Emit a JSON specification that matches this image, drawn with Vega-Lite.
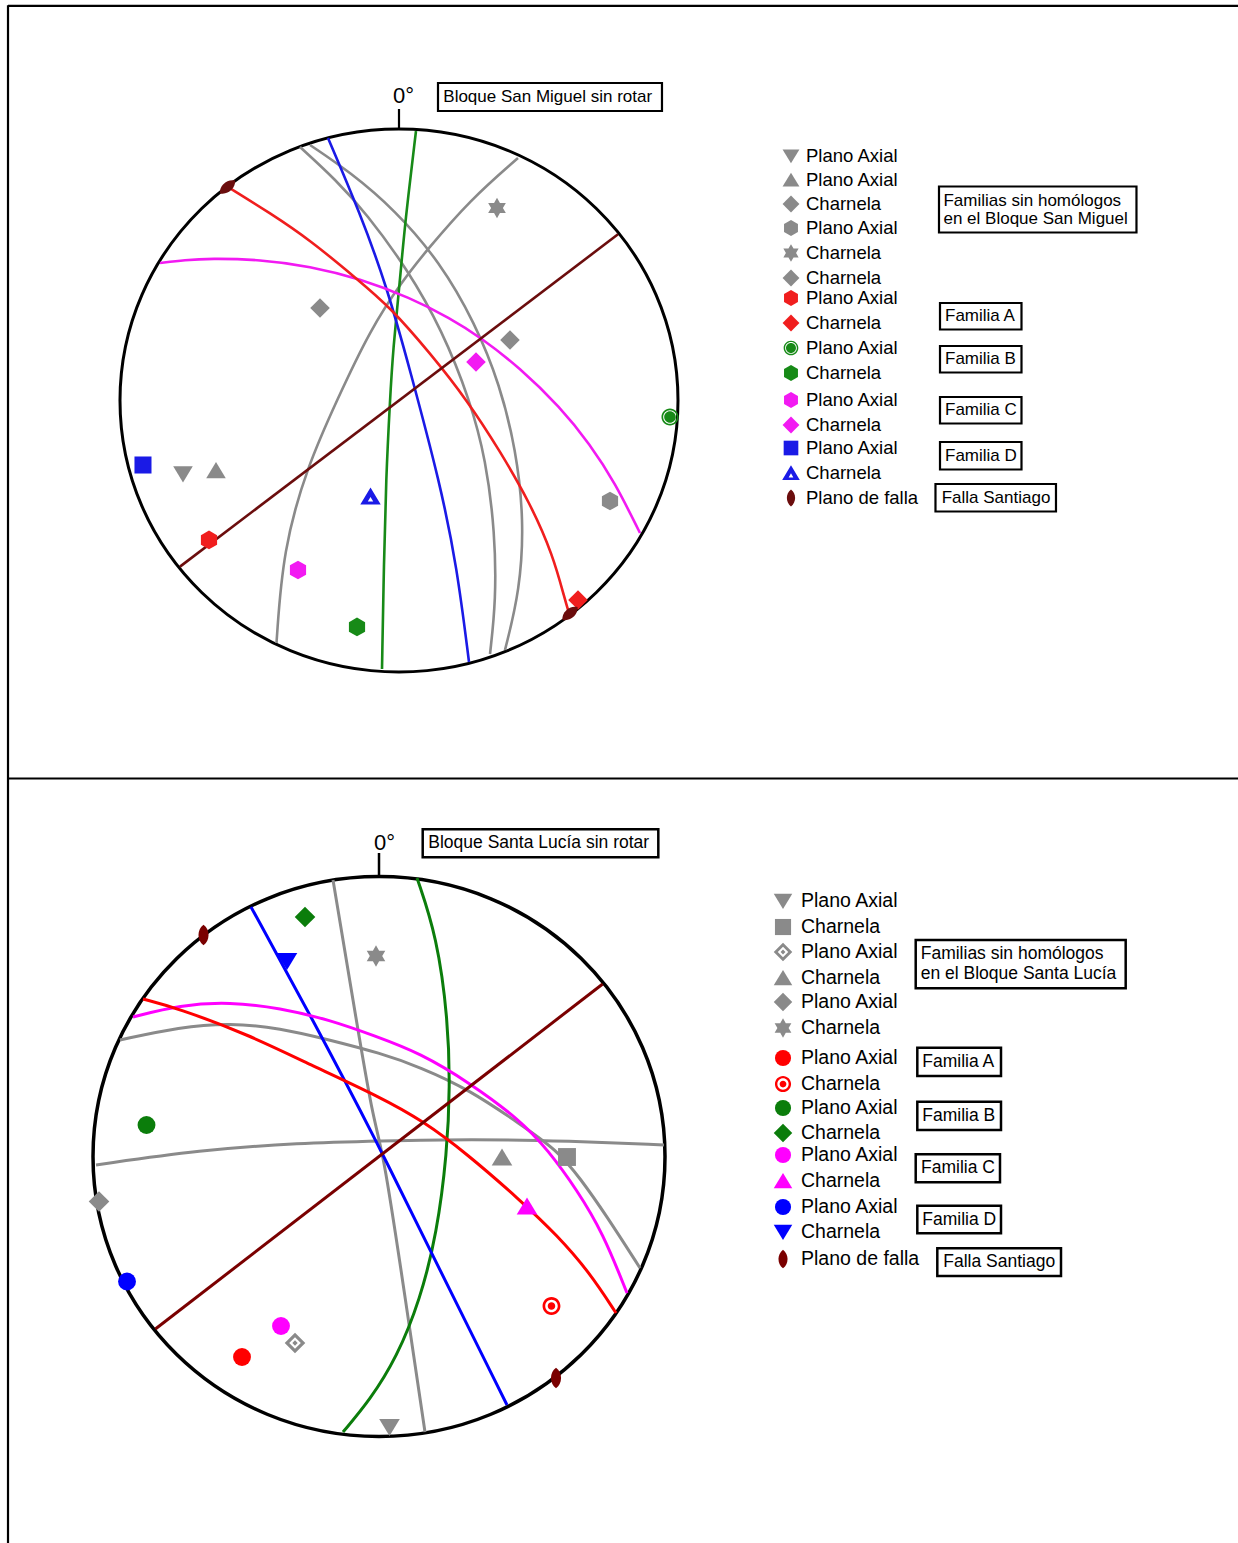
{
  "$schema": "https://vega.github.io/schema/vega-lite/v6.json",
  "width": 1238,
  "height": 1543,
  "padding": 0,
  "autosize": {"type": "none"},
  "background": "white",
  "config": {"view": {"stroke": null}},
  "datasets": {
    "topRules": [
      {"u": -140.14, "u2": -140.14, "v": 145.6, "v2": -420.81},
      {"u": -140.14, "u2": 300.72, "v": 145.38, "v2": 145.38},
      {"u": -140.14, "u2": 300.72, "v": -139.22, "v2": -139.22},
      {"u": 0, "u2": 0, "v": 107.37, "v2": 99.81}
    ],
    "topLines": [
      {"id": "G1", "fam": "S", "i": 0, "u": -35.48, "v": 93.37},
      {"id": "G1", "fam": "S", "i": 1, "u": -22.58, "v": 81.21},
      {"id": "G1", "fam": "S", "i": 2, "u": -11.83, "v": 69.06},
      {"id": "G1", "fam": "S", "i": 3, "u": 3.23, "v": 48.07},
      {"id": "G1", "fam": "S", "i": 4, "u": 15.41, "v": 25.97},
      {"id": "G1", "fam": "S", "i": 5, "u": 25.45, "v": 0.18},
      {"id": "G1", "fam": "S", "i": 6, "u": 31.18, "v": -21.92},
      {"id": "G1", "fam": "S", "i": 7, "u": 34.41, "v": -48.8},
      {"id": "G1", "fam": "S", "i": 8, "u": 34.77, "v": -73.48},
      {"id": "G1", "fam": "S", "i": 9, "u": 32.62, "v": -93.37},
      {"id": "G2", "fam": "S", "i": 0, "u": -31.9, "v": 94.11},
      {"id": "G2", "fam": "S", "i": 1, "u": -17.56, "v": 84.16},
      {"id": "G2", "fam": "S", "i": 2, "u": -1.43, "v": 70.16},
      {"id": "G2", "fam": "S", "i": 3, "u": 14.7, "v": 51.01},
      {"id": "G2", "fam": "S", "i": 4, "u": 27.24, "v": 28.54},
      {"id": "G2", "fam": "S", "i": 5, "u": 36.2, "v": 5.71},
      {"id": "G2", "fam": "S", "i": 6, "u": 41.94, "v": -18.23},
      {"id": "G2", "fam": "S", "i": 7, "u": 44.8, "v": -44.01},
      {"id": "G2", "fam": "S", "i": 8, "u": 43.37, "v": -69.8},
      {"id": "G2", "fam": "S", "i": 9, "u": 37.99, "v": -91.9},
      {"id": "G3", "fam": "S", "i": 0, "u": 42.65, "v": 89.32},
      {"id": "G3", "fam": "S", "i": 1, "u": 25.45, "v": 73.85},
      {"id": "G3", "fam": "S", "i": 2, "u": 10.04, "v": 55.43},
      {"id": "G3", "fam": "S", "i": 3, "u": 1.43, "v": 44.38},
      {"id": "G3", "fam": "S", "i": 4, "u": -10.39, "v": 25.97},
      {"id": "G3", "fam": "S", "i": 5, "u": -22.22, "v": 0.18},
      {"id": "G3", "fam": "S", "i": 6, "u": -32.97, "v": -24.49},
      {"id": "G3", "fam": "S", "i": 7, "u": -41.58, "v": -55.06},
      {"id": "G3", "fam": "S", "i": 8, "u": -43.91, "v": -89.32},
      {"id": "B", "fam": "B", "i": 0, "u": 6.09, "v": 99.26},
      {"id": "B", "fam": "B", "i": 1, "u": 2.15, "v": 65.38},
      {"id": "B", "fam": "B", "i": 2, "u": 0.36, "v": 44.38},
      {"id": "B", "fam": "B", "i": 3, "u": -2.15, "v": 18.6},
      {"id": "B", "fam": "B", "i": 4, "u": -3.23, "v": 0.18},
      {"id": "B", "fam": "B", "i": 5, "u": -4.66, "v": -29.28},
      {"id": "B", "fam": "B", "i": 6, "u": -5.38, "v": -58.75},
      {"id": "B", "fam": "B", "i": 7, "u": -6.09, "v": -98.89},
      {"id": "D", "fam": "D", "i": 0, "u": -25.45, "v": 96.68},
      {"id": "D", "fam": "D", "i": 1, "u": -13.98, "v": 69.06},
      {"id": "D", "fam": "D", "i": 2, "u": -4.3, "v": 41.8},
      {"id": "D", "fam": "D", "i": 3, "u": 3.94, "v": 11.23},
      {"id": "D", "fam": "D", "i": 4, "u": 14.7, "v": -30.39},
      {"id": "D", "fam": "D", "i": 5, "u": 20.79, "v": -61.33},
      {"id": "D", "fam": "D", "i": 6, "u": 25.09, "v": -96.32},
      {"id": "C", "fam": "C", "i": 0, "u": -85.66, "v": 50.64},
      {"id": "C", "fam": "C", "i": 1, "u": -76.7, "v": 51.75},
      {"id": "C", "fam": "C", "i": 2, "u": -67.74, "v": 52.3},
      {"id": "C", "fam": "C", "i": 3, "u": -49.82, "v": 51.93},
      {"id": "C", "fam": "C", "i": 4, "u": -31.9, "v": 49.47},
      {"id": "C", "fam": "C", "i": 5, "u": -13.98, "v": 44.86},
      {"id": "C", "fam": "C", "i": 6, "u": 3.94, "v": 37.86},
      {"id": "C", "fam": "C", "i": 7, "u": 18.28, "v": 30.35},
      {"id": "C", "fam": "C", "i": 8, "u": 29.03, "v": 23.39},
      {"id": "C", "fam": "C", "i": 9, "u": 43.37, "v": 12.01},
      {"id": "C", "fam": "C", "i": 10, "u": 57.71, "v": -2.43},
      {"id": "C", "fam": "C", "i": 11, "u": 68.46, "v": -16.1},
      {"id": "C", "fam": "C", "i": 12, "u": 77.42, "v": -30.31},
      {"id": "C", "fam": "C", "i": 13, "u": 86.38, "v": -48.8},
      {"id": "A", "fam": "A", "i": 0, "u": -61.29, "v": 78.64},
      {"id": "A", "fam": "A", "i": 1, "u": -46.24, "v": 69.06},
      {"id": "A", "fam": "A", "i": 2, "u": -31.9, "v": 59.12},
      {"id": "A", "fam": "A", "i": 3, "u": -15.05, "v": 44.75},
      {"id": "A", "fam": "A", "i": 4, "u": -3.23, "v": 34.44},
      {"id": "A", "fam": "A", "i": 5, "u": 11.11, "v": 17.5},
      {"id": "A", "fam": "A", "i": 6, "u": 24.37, "v": 0.18},
      {"id": "A", "fam": "A", "i": 7, "u": 36.2, "v": -18.6},
      {"id": "A", "fam": "A", "i": 8, "u": 46.95, "v": -37.75},
      {"id": "A", "fam": "A", "i": 9, "u": 55.2, "v": -56.91},
      {"id": "A", "fam": "A", "i": 10, "u": 59.5, "v": -73.48},
      {"id": "A", "fam": "A", "i": 11, "u": 60.93, "v": -78.27},
      {"id": "F", "fam": "F", "i": 0, "u": -78.5, "v": -61.2},
      {"id": "F", "fam": "F", "i": 1, "u": 78.5, "v": 61.2}
    ],
    "topPts": [
      {"key": "s1", "fam": "S", "u": -77.42, "v": -27.07},
      {"key": "s2", "fam": "S", "u": -65.59, "v": -25.78},
      {"key": "s3", "fam": "S", "u": -28.31, "v": 34.07},
      {"key": "s6", "fam": "S", "u": 39.78, "v": 22.28},
      {"key": "s4", "fam": "S", "u": 75.63, "v": -37.02},
      {"key": "s5", "fam": "S", "u": 35.13, "v": 70.9},
      {"key": "a_pa", "fam": "A", "u": -68.1, "v": -51.38},
      {"key": "a_ch", "fam": "A", "u": 64.16, "v": -73.48},
      {"key": "b_pa", "fam": "B", "u": 97.13, "v": -6.08},
      {"key": "b_ch", "fam": "B", "u": -15.05, "v": -83.42},
      {"key": "c_pa", "fam": "C", "u": -36.2, "v": -62.43},
      {"key": "c_ch", "fam": "C", "u": 27.6, "v": 14.18},
      {"key": "d_pa", "fam": "D", "u": -91.76, "v": -23.76},
      {"key": "d_ch", "fam": "D", "u": -10.21, "v": -35.36},
      {"key": "falla", "fam": "F", "u": -61.47, "v": 78.64},
      {"key": "falla", "fam": "F", "u": 61.29, "v": -78.45}
    ],
    "topLeg": [
      {"key": "s1", "fam": "S", "label": "Plano Axial", "v": 90.05},
      {"key": "s2", "fam": "S", "label": "Plano Axial", "v": 81.21},
      {"key": "s3", "fam": "S", "label": "Charnela", "v": 72.37},
      {"key": "s4", "fam": "S", "label": "Plano Axial", "v": 63.54},
      {"key": "s5", "fam": "S", "label": "Charnela", "v": 54.33},
      {"key": "s6", "fam": "S", "label": "Charnela", "v": 45.12},
      {"key": "a_pa", "fam": "A", "label": "Plano Axial", "v": 37.75},
      {"key": "a_ch", "fam": "A", "label": "Charnela", "v": 28.54},
      {"key": "b_pa", "fam": "B", "label": "Plano Axial", "v": 19.34},
      {"key": "b_ch", "fam": "B", "label": "Charnela", "v": 10.13},
      {"key": "c_pa", "fam": "C", "label": "Plano Axial", "v": 0.18},
      {"key": "c_ch", "fam": "C", "label": "Charnela", "v": -9.02},
      {"key": "d_pa", "fam": "D", "label": "Plano Axial", "v": -17.5},
      {"key": "d_ch", "fam": "D", "label": "Charnela", "v": -26.7},
      {"key": "falla", "fam": "F", "label": "Plano de falla", "v": -35.91}
    ],
    "topBoxes": [
      {"u": 13.98, "u2": 94.26, "v": 116.94, "v2": 106.63},
      {"u": 193.55, "u2": 264.33, "v": 78.82, "v2": 61.88},
      {"u": 193.91, "u2": 223.12, "v": 35.91, "v2": 26.15},
      {"u": 193.91, "u2": 223.12, "v": 20.07, "v2": 10.31},
      {"u": 193.91, "u2": 223.12, "v": 1.29, "v2": -8.47},
      {"u": 193.91, "u2": 223.12, "v": -15.29, "v2": -25.41},
      {"u": 192.29, "u2": 235.48, "v": -30.75, "v2": -40.88}
    ],
    "topTexts": [
      {"label": "Bloque San Miguel sin rotar", "u": 15.88, "v": 111.79},
      {"label": "Familias sin homólogos", "u": 195.16, "v": 73.66},
      {"label": "en el Bloque San Miguel", "u": 195.16, "v": 66.67},
      {"label": "Familia A", "u": 195.7, "v": 31.12},
      {"label": "Familia B", "u": 195.7, "v": 15.17},
      {"label": "Familia C", "u": 195.7, "v": -3.57},
      {"label": "Familia D", "u": 195.7, "v": -20.33},
      {"label": "Falla Santiago", "u": 194.51, "v": -35.8}
    ],
    "botRules": [
      {"u": 0, "u2": 0, "v": 108.39, "v2": 100.0}
    ],
    "botLines": [
      {"id": "GA", "fam": "S", "i": 0, "u": -90.56, "v": 41.61},
      {"id": "GA", "fam": "S", "i": 1, "u": -69.58, "v": 46.25},
      {"id": "GA", "fam": "S", "i": 2, "u": -52.1, "v": 47.68},
      {"id": "GA", "fam": "S", "i": 3, "u": -34.62, "v": 45.89},
      {"id": "GA", "fam": "S", "i": 4, "u": -17.13, "v": 41.61},
      {"id": "GA", "fam": "S", "i": 5, "u": 0.35, "v": 36.96},
      {"id": "GA", "fam": "S", "i": 6, "u": 14.34, "v": 31.96},
      {"id": "GA", "fam": "S", "i": 7, "u": 31.82, "v": 23.75},
      {"id": "GA", "fam": "S", "i": 8, "u": 49.3, "v": 11.61},
      {"id": "GA", "fam": "S", "i": 9, "u": 62.24, "v": 2.32},
      {"id": "GA", "fam": "S", "i": 10, "u": 70.28, "v": -7.68},
      {"id": "GA", "fam": "S", "i": 11, "u": 79.37, "v": -20.89},
      {"id": "GA", "fam": "S", "i": 12, "u": 91.26, "v": -39.82},
      {"id": "GB", "fam": "S", "i": 0, "u": -98.95, "v": -3.04},
      {"id": "GB", "fam": "S", "i": 1, "u": -62.59, "v": 2.32},
      {"id": "GB", "fam": "S", "i": 2, "u": -27.62, "v": 4.82},
      {"id": "GB", "fam": "S", "i": 3, "u": 0.35, "v": 5.54},
      {"id": "GB", "fam": "S", "i": 4, "u": 31.82, "v": 6.25},
      {"id": "GB", "fam": "S", "i": 5, "u": 66.78, "v": 5.54},
      {"id": "GB", "fam": "S", "i": 6, "u": 99.65, "v": 4.11},
      {"id": "GC", "fam": "S", "i": 0, "u": -16.08, "v": 98.75},
      {"id": "GC", "fam": "S", "i": 1, "u": -9.09, "v": 55.89},
      {"id": "GC", "fam": "S", "i": 2, "u": -2.1, "v": 13.04},
      {"id": "GC", "fam": "S", "i": 3, "u": 1.4, "v": 2.32},
      {"id": "GC", "fam": "S", "i": 4, "u": 8.39, "v": -45.18},
      {"id": "GC", "fam": "S", "i": 5, "u": 16.08, "v": -98.39},
      {"id": "B", "fam": "B", "i": 0, "u": 13.29, "v": 99.46},
      {"id": "B", "fam": "B", "i": 1, "u": 20.28, "v": 78.39},
      {"id": "B", "fam": "B", "i": 2, "u": 24.13, "v": 48.75},
      {"id": "B", "fam": "B", "i": 3, "u": 24.83, "v": 24.82},
      {"id": "B", "fam": "B", "i": 4, "u": 23.78, "v": 1.25},
      {"id": "B", "fam": "B", "i": 5, "u": 20.28, "v": -27.32},
      {"id": "B", "fam": "B", "i": 6, "u": 14.34, "v": -51.25},
      {"id": "B", "fam": "B", "i": 7, "u": 6.29, "v": -71.61},
      {"id": "B", "fam": "B", "i": 8, "u": -3.15, "v": -86.96},
      {"id": "B", "fam": "B", "i": 9, "u": -12.59, "v": -98.39},
      {"id": "D", "fam": "D", "i": 0, "u": -44.76, "v": 89.11},
      {"id": "D", "fam": "D", "i": 1, "u": -23.08, "v": 48.75},
      {"id": "D", "fam": "D", "i": 2, "u": -0.7, "v": 5.18},
      {"id": "D", "fam": "D", "i": 3, "u": 17.83, "v": -33.39},
      {"id": "D", "fam": "D", "i": 4, "u": 44.76, "v": -88.75},
      {"id": "C", "fam": "C", "i": 0, "u": -86.01, "v": 49.82},
      {"id": "C", "fam": "C", "i": 1, "u": -69.58, "v": 54.11},
      {"id": "C", "fam": "C", "i": 2, "u": -52.1, "v": 55.18},
      {"id": "C", "fam": "C", "i": 3, "u": -34.62, "v": 53.04},
      {"id": "C", "fam": "C", "i": 4, "u": -17.13, "v": 48.75},
      {"id": "C", "fam": "C", "i": 5, "u": -1.4, "v": 43.04},
      {"id": "C", "fam": "C", "i": 6, "u": 14.34, "v": 36.96},
      {"id": "C", "fam": "C", "i": 7, "u": 31.82, "v": 26.25},
      {"id": "C", "fam": "C", "i": 8, "u": 49.3, "v": 13.04},
      {"id": "C", "fam": "C", "i": 9, "u": 59.09, "v": 2.32},
      {"id": "C", "fam": "C", "i": 10, "u": 69.23, "v": -11.96},
      {"id": "C", "fam": "C", "i": 11, "u": 78.32, "v": -27.32},
      {"id": "C", "fam": "C", "i": 12, "u": 86.71, "v": -48.75},
      {"id": "A", "fam": "A", "i": 0, "u": -82.52, "v": 56.25},
      {"id": "A", "fam": "A", "i": 1, "u": -70.63, "v": 53.04},
      {"id": "A", "fam": "A", "i": 2, "u": -46.15, "v": 43.75},
      {"id": "A", "fam": "A", "i": 3, "u": -23.08, "v": 32.32},
      {"id": "A", "fam": "A", "i": 4, "u": 0.35, "v": 21.25},
      {"id": "A", "fam": "A", "i": 5, "u": 15.38, "v": 12.68},
      {"id": "A", "fam": "A", "i": 6, "u": 30.42, "v": 1.25},
      {"id": "A", "fam": "A", "i": 7, "u": 49.3, "v": -15.54},
      {"id": "A", "fam": "A", "i": 8, "u": 62.24, "v": -28.04},
      {"id": "A", "fam": "A", "i": 9, "u": 73.78, "v": -41.61},
      {"id": "A", "fam": "A", "i": 10, "u": 82.87, "v": -55.89},
      {"id": "F", "fam": "F", "i": 0, "u": -78.2, "v": -61.6},
      {"id": "F", "fam": "F", "i": 1, "u": 78.2, "v": 61.6}
    ],
    "botPts": [
      {"key": "s1", "fam": "S", "u": 3.67, "v": -96.61},
      {"key": "s2", "fam": "S", "u": 65.73, "v": -0.18},
      {"key": "s3", "fam": "S", "u": -29.37, "v": -66.61},
      {"key": "s4", "fam": "S", "u": 43.01, "v": -0.36},
      {"key": "s5", "fam": "S", "u": -97.9, "v": -16.07},
      {"key": "s6", "fam": "S", "u": -1.05, "v": 71.61},
      {"key": "a_pa", "fam": "A", "u": -47.9, "v": -71.61},
      {"key": "a_ch", "fam": "A", "u": 60.31, "v": -53.39},
      {"key": "b_pa", "fam": "B", "u": -81.29, "v": 11.25},
      {"key": "b_ch", "fam": "B", "u": -25.87, "v": 85.53},
      {"key": "c_pa", "fam": "C", "u": -34.27, "v": -60.54},
      {"key": "c_ch", "fam": "C", "u": 51.75, "v": -17.86},
      {"key": "d_pa", "fam": "D", "u": -88.11, "v": -44.64},
      {"key": "d_ch", "fam": "D", "u": -32.17, "v": 69.82},
      {"key": "falla", "fam": "F", "u": -61.36, "v": 79.11},
      {"key": "falla", "fam": "F", "u": 61.89, "v": -79.11}
    ],
    "botLeg": [
      {"key": "s1", "fam": "S", "label": "Plano Axial", "v": 91.25},
      {"key": "s2", "fam": "S", "label": "Charnela", "v": 81.96},
      {"key": "s3", "fam": "S", "label": "Plano Axial", "v": 73.04},
      {"key": "s4", "fam": "S", "label": "Charnela", "v": 63.75},
      {"key": "s5", "fam": "S", "label": "Plano Axial", "v": 55.18},
      {"key": "s6", "fam": "S", "label": "Charnela", "v": 45.89},
      {"key": "a_pa", "fam": "A", "label": "Plano Axial", "v": 35.18},
      {"key": "a_ch", "fam": "A", "label": "Charnela", "v": 25.89},
      {"key": "b_pa", "fam": "B", "label": "Plano Axial", "v": 17.32},
      {"key": "b_ch", "fam": "B", "label": "Charnela", "v": 8.39},
      {"key": "c_pa", "fam": "C", "label": "Plano Axial", "v": 0.54},
      {"key": "c_ch", "fam": "C", "label": "Charnela", "v": -8.75},
      {"key": "d_pa", "fam": "D", "label": "Plano Axial", "v": -18.04},
      {"key": "d_ch", "fam": "D", "label": "Charnela", "v": -26.96},
      {"key": "falla", "fam": "F", "label": "Plano de falla", "v": -36.61}
    ],
    "botBoxes": [
      {"u": 15.28, "u2": 97.66, "v": 116.86, "v2": 106.86},
      {"u": 187.66, "u2": 261.08, "v": 77.32, "v2": 60.07},
      {"u": 188.22, "u2": 217.48, "v": 38.86, "v2": 28.75},
      {"u": 188.22, "u2": 217.48, "v": 19.57, "v2": 9.46},
      {"u": 187.66, "u2": 217.13, "v": 0.79, "v2": -9.21},
      {"u": 188.22, "u2": 217.48, "v": -17.57, "v2": -27.43},
      {"u": 195.21, "u2": 238.46, "v": -32.79, "v2": -42.68}
    ],
    "botTexts": [
      {"label": "Bloque Santa Lucía sin rotar", "u": 17.24, "v": 111.86},
      {"label": "Familias sin homólogos", "u": 189.41, "v": 72.21},
      {"label": "en el Bloque Santa Lucía", "u": 189.41, "v": 65.07},
      {"label": "Familia A", "u": 189.97, "v": 33.79},
      {"label": "Familia B", "u": 189.97, "v": 14.5},
      {"label": "Familia C", "u": 189.51, "v": -4.21},
      {"label": "Familia D", "u": 189.97, "v": -22.5},
      {"label": "Falla Santiago", "u": 197.31, "v": -37.75}
    ]
  },
  "resolve": {"scale": {"x": "independent", "y": "independent", "color": "independent", "shape": "independent"}},
  "layer": [
    {
      "layer": [
        {
          "data": {"name": "topRules"},
          "mark": {"type": "rule", "stroke": "black", "strokeWidth": 2.2},
          "encoding": {
            "x": {"field": "u", "type": "quantitative", "scale": {"domain": [-143.01, 300.72], "nice": false, "zero": false}, "axis": null},
            "x2": {"field": "u2"},
            "y": {"field": "v", "type": "quantitative", "scale": {"domain": [-420.81, 147.51], "nice": false, "zero": false}, "axis": null},
            "y2": {"field": "v2"}
          }
        },
        {
          "data": {"values": [{"u": 0, "v": 0}]},
          "mark": {"type": "point", "filled": false, "stroke": "black", "strokeWidth": 3, "opacity": 1, "size": 311364,
            "shape": "M1,0C1,0.5375 0.5523,0.9731 0,0.9731C-0.5523,0.9731 -1,0.5375 -1,0C-1,-0.5375 -0.5523,-0.9731 0,-0.9731C0.5523,-0.9731 1,-0.5375 1,0Z"},
          "encoding": {
            "x": {"field": "u", "type": "quantitative", "scale": {"domain": [-143.01, 300.72], "nice": false, "zero": false}, "axis": null},
            "y": {"field": "v", "type": "quantitative", "scale": {"domain": [-420.81, 147.51], "nice": false, "zero": false}, "axis": null}
          }
        },
        {
          "data": {"name": "topLines"},
          "mark": {"type": "line", "strokeWidth": 2.6, "interpolate": "basis"},
          "encoding": {
            "x": {"field": "u", "type": "quantitative", "scale": {"domain": [-143.01, 300.72], "nice": false, "zero": false}, "axis": null},
            "y": {"field": "v", "type": "quantitative", "scale": {"domain": [-420.81, 147.51], "nice": false, "zero": false}, "axis": null},
            "color": {"field": "fam", "type": "nominal", "scale": {"domain": ["S", "A", "B", "C", "D", "F"], "range": ["#8a8a8a", "#f01e1e", "#178a17", "#f21af2", "#1a1ae6", "#6b0d0d"]}, "legend": null},
            "detail": {"field": "id"},
            "order": {"field": "i", "type": "quantitative"}
          }
        },
        {
          "data": {"name": "topPts"},
          "transform": [{"filter": "datum.key !== 'falla'"}],
          "mark": {"type": "point", "filled": true, "opacity": 1, "strokeWidth": 0, "size": 290},
          "encoding": {
            "x": {"field": "u", "type": "quantitative", "scale": {"domain": [-143.01, 300.72], "nice": false, "zero": false}, "axis": null},
            "y": {"field": "v", "type": "quantitative", "scale": {"domain": [-420.81, 147.51], "nice": false, "zero": false}, "axis": null},
            "color": {"field": "fam", "type": "nominal", "scale": {"domain": ["S", "A", "B", "C", "D", "F"], "range": ["#8a8a8a", "#f01e1e", "#178a17", "#f21af2", "#1a1ae6", "#6b0d0d"]}, "legend": null},
            "shape": {"field": "key", "type": "nominal", "legend": null, "scale": {
              "domain": ["s1", "s2", "s3", "s4", "s5", "s6", "a_pa", "a_ch", "b_pa", "b_ch", "c_pa", "c_ch", "d_pa", "d_ch", "falla"],
              "range": [
                "M-1.15,-0.9L1.15,-0.9L0,1Z",
                "M0,-1L1.15,0.9L-1.15,0.9Z",
                "M0,-1.15L1.15,0L0,1.15L-1.15,0Z",
                "M0,-1.1L0.95,-0.55L0.95,0.55L0,1.1L-0.95,0.55L-0.95,-0.55Z",
                "M0,-1.2L0.346,-0.6L1.039,-0.6L0.693,0L1.039,0.6L0.346,0.6L0,1.2L-0.346,0.6L-1.039,0.6L-0.693,0L-1.039,-0.6L-0.346,-0.6Z",
                "M0,-1.15L1.15,0L0,1.15L-1.15,0Z",
                "M0,-1.1L0.95,-0.55L0.95,0.55L0,1.1L-0.95,0.55L-0.95,-0.55Z",
                "M0,-1.15L1.15,0L0,1.15L-1.15,0Z",
                "M1,0C1,0.5523 0.5523,1 0,1C-0.5523,1 -1,0.5523 -1,0C-1,-0.5523 -0.5523,-1 0,-1C0.5523,-1 1,-0.5523 1,0Z M0.8,0C0.8,-0.4418 0.4418,-0.8 0,-0.8C-0.4418,-0.8 -0.8,-0.4418 -0.8,0C-0.8,0.4418 -0.4418,0.8 0,0.8C0.4418,0.8 0.8,0.4418 0.8,0Z M0.68,0C0.68,0.3756 0.3756,0.68 0,0.68C-0.3756,0.68 -0.68,0.3756 -0.68,0C-0.68,-0.3756 -0.3756,-0.68 0,-0.68C0.3756,-0.68 0.68,-0.3756 0.68,0Z",
                "M0,-1.1L0.95,-0.55L0.95,0.55L0,1.1L-0.95,0.55L-0.95,-0.55Z",
                "M0,-1.1L0.95,-0.55L0.95,0.55L0,1.1L-0.95,0.55L-0.95,-0.55Z",
                "M0,-1.15L1.15,0L0,1.15L-1.15,0Z",
                "M-1,-1L1,-1L1,1L-1,1Z",
                "M0,-1.05L1.2,0.95L-1.2,0.95Z M0,0.05L-0.32,0.6L0.32,0.6Z",
                "M0,-1.15C0.75,-0.6 0.75,0.6 0,1.15C-0.75,0.6 -0.75,-0.6 0,-1.15Z"
              ]}}
          }
        },
        {
          "data": {"name": "topPts"},
          "transform": [{"filter": "datum.key === 'falla'"}],
          "mark": {"type": "point", "filled": true, "opacity": 1, "strokeWidth": 0, "size": 300, "angle": 50},
          "encoding": {
            "x": {"field": "u", "type": "quantitative", "scale": {"domain": [-143.01, 300.72], "nice": false, "zero": false}, "axis": null},
            "y": {"field": "v", "type": "quantitative", "scale": {"domain": [-420.81, 147.51], "nice": false, "zero": false}, "axis": null},
            "color": {"field": "fam", "type": "nominal", "legend": null},
            "shape": {"field": "key", "type": "nominal", "legend": null}
          }
        },
        {
          "data": {"values": [{"label": "0°", "u": 1.61, "v": 112.15}]},
          "mark": {"type": "text", "font": "Liberation Sans", "fontSize": 22, "align": "center", "baseline": "middle", "color": "black"},
          "encoding": {
            "x": {"field": "u", "type": "quantitative", "scale": {"domain": [-143.01, 300.72], "nice": false, "zero": false}, "axis": null},
            "y": {"field": "v", "type": "quantitative", "scale": {"domain": [-420.81, 147.51], "nice": false, "zero": false}, "axis": null},
            "text": {"field": "label"}
          }
        },
        {
          "data": {"name": "topBoxes"},
          "mark": {"type": "rect", "fill": "white", "stroke": "black", "strokeWidth": 2.2},
          "encoding": {
            "x": {"field": "u", "type": "quantitative", "scale": {"domain": [-143.01, 300.72], "nice": false, "zero": false}, "axis": null},
            "x2": {"field": "u2"},
            "y": {"field": "v", "type": "quantitative", "scale": {"domain": [-420.81, 147.51], "nice": false, "zero": false}, "axis": null},
            "y2": {"field": "v2"}
          }
        },
        {
          "data": {"name": "topTexts"},
          "mark": {"type": "text", "font": "Liberation Sans", "fontSize": 17, "align": "left", "baseline": "middle", "color": "black"},
          "encoding": {
            "x": {"field": "u", "type": "quantitative", "scale": {"domain": [-143.01, 300.72], "nice": false, "zero": false}, "axis": null},
            "y": {"field": "v", "type": "quantitative", "scale": {"domain": [-420.81, 147.51], "nice": false, "zero": false}, "axis": null},
            "text": {"field": "label"}
          }
        },
        {
          "data": {"name": "topLeg"},
          "mark": {"type": "point", "filled": true, "opacity": 1, "strokeWidth": 0, "size": 215},
          "encoding": {
            "x": {"datum": 140.5, "type": "quantitative", "scale": {"domain": [-143.01, 300.72], "nice": false, "zero": false}, "axis": null},
            "y": {"field": "v", "type": "quantitative", "scale": {"domain": [-420.81, 147.51], "nice": false, "zero": false}, "axis": null},
            "color": {"field": "fam", "type": "nominal", "legend": null},
            "shape": {"field": "key", "type": "nominal", "legend": null}
          }
        },
        {
          "data": {"name": "topLeg"},
          "mark": {"type": "text", "font": "Liberation Sans", "fontSize": 18.5, "align": "left", "baseline": "middle", "color": "black"},
          "encoding": {
            "x": {"datum": 145.88, "type": "quantitative", "scale": {"domain": [-143.01, 300.72], "nice": false, "zero": false}, "axis": null},
            "y": {"field": "v", "type": "quantitative", "scale": {"domain": [-420.81, 147.51], "nice": false, "zero": false}, "axis": null},
            "text": {"field": "label"}
          }
        }
      ]
    },
    {
      "layer": [
        {
          "data": {"name": "botRules"},
          "mark": {"type": "rule", "stroke": "black", "strokeWidth": 2.5},
          "encoding": {
            "x": {"field": "u", "type": "quantitative", "scale": {"domain": [-132.52, 300.35], "nice": false, "zero": false}, "axis": null},
            "x2": {"field": "u2"},
            "y": {"field": "v", "type": "quantitative", "scale": {"domain": [-138.03, 413.03], "nice": false, "zero": false}, "axis": null},
            "y2": {"field": "v2"}
          }
        },
        {
          "data": {"values": [{"u": 0, "v": 0}]},
          "mark": {"type": "point", "filled": false, "stroke": "black", "strokeWidth": 3.5, "opacity": 1, "size": 327184,
            "shape": "M1,0C1,0.5407 0.5523,0.979 0,0.979C-0.5523,0.979 -1,0.5407 -1,0C-1,-0.5407 -0.5523,-0.979 0,-0.979C0.5523,-0.979 1,-0.5407 1,0Z"},
          "encoding": {
            "x": {"field": "u", "type": "quantitative", "scale": {"domain": [-132.52, 300.35], "nice": false, "zero": false}, "axis": null},
            "y": {"field": "v", "type": "quantitative", "scale": {"domain": [-138.03, 413.03], "nice": false, "zero": false}, "axis": null}
          }
        },
        {
          "data": {"name": "botLines"},
          "mark": {"type": "line", "strokeWidth": 3, "interpolate": "basis"},
          "encoding": {
            "x": {"field": "u", "type": "quantitative", "scale": {"domain": [-132.52, 300.35], "nice": false, "zero": false}, "axis": null},
            "y": {"field": "v", "type": "quantitative", "scale": {"domain": [-138.03, 413.03], "nice": false, "zero": false}, "axis": null},
            "color": {"field": "fam", "type": "nominal", "scale": {"domain": ["S", "A", "B", "C", "D", "F"], "range": ["#8a8a8a", "#ff0000", "#0b7d0b", "#ff00ff", "#0000ff", "#7a0000"]}, "legend": null},
            "detail": {"field": "id"},
            "order": {"field": "i", "type": "quantitative"}
          }
        },
        {
          "data": {"name": "botPts"},
          "transform": [{"filter": "datum.key !== 'falla'"}],
          "mark": {"type": "point", "filled": true, "opacity": 1, "strokeWidth": 0, "size": 320},
          "encoding": {
            "x": {"field": "u", "type": "quantitative", "scale": {"domain": [-132.52, 300.35], "nice": false, "zero": false}, "axis": null},
            "y": {"field": "v", "type": "quantitative", "scale": {"domain": [-138.03, 413.03], "nice": false, "zero": false}, "axis": null},
            "color": {"field": "fam", "type": "nominal", "scale": {"domain": ["S", "A", "B", "C", "D", "F"], "range": ["#8a8a8a", "#ff0000", "#0b7d0b", "#ff00ff", "#0000ff", "#7a0000"]}, "legend": null},
            "shape": {"field": "key", "type": "nominal", "legend": null, "scale": {
              "domain": ["s1", "s2", "s3", "s4", "s5", "s6", "a_pa", "a_ch", "b_pa", "b_ch", "c_pa", "c_ch", "d_pa", "d_ch", "falla"],
              "range": [
                "M-1.15,-0.9L1.15,-0.9L0,1Z",
                "M-1,-1L1,-1L1,1L-1,1Z",
                "M0,-1.15L1.15,0L0,1.15L-1.15,0Z M0,-0.65L-0.65,0L0,0.65L0.65,0Z M0,-0.3L0.3,0L0,0.3L-0.3,0Z",
                "M0,-1L1.15,0.9L-1.15,0.9Z",
                "M0,-1.15L1.15,0L0,1.15L-1.15,0Z",
                "M0,-1.2L0.346,-0.6L1.039,-0.6L0.693,0L1.039,0.6L0.346,0.6L0,1.2L-0.346,0.6L-1.039,0.6L-0.693,0L-1.039,-0.6L-0.346,-0.6Z",
                "circle",
                "M1,0C1,0.5523 0.5523,1 0,1C-0.5523,1 -1,0.5523 -1,0C-1,-0.5523 -0.5523,-1 0,-1C0.5523,-1 1,-0.5523 1,0Z M0.7,0C0.7,-0.3866 0.3866,-0.7 0,-0.7C-0.3866,-0.7 -0.7,-0.3866 -0.7,0C-0.7,0.3866 -0.3866,0.7 0,0.7C0.3866,0.7 0.7,0.3866 0.7,0Z M0.42,0C0.42,0.232 0.232,0.42 0,0.42C-0.232,0.42 -0.42,0.232 -0.42,0C-0.42,-0.232 -0.232,-0.42 0,-0.42C0.232,-0.42 0.42,-0.232 0.42,0Z",
                "circle",
                "M0,-1.15L1.15,0L0,1.15L-1.15,0Z",
                "circle",
                "M0,-1L1.15,0.9L-1.15,0.9Z",
                "circle",
                "M-1.15,-0.9L1.15,-0.9L0,1Z",
                "M0,-1.15C0.75,-0.6 0.75,0.6 0,1.15C-0.75,0.6 -0.75,-0.6 0,-1.15Z"
              ]}}
          }
        },
        {
          "data": {"name": "botPts"},
          "transform": [{"filter": "datum.key === 'falla'"}],
          "mark": {"type": "point", "filled": true, "opacity": 1, "strokeWidth": 0, "size": 320},
          "encoding": {
            "x": {"field": "u", "type": "quantitative", "scale": {"domain": [-132.52, 300.35], "nice": false, "zero": false}, "axis": null},
            "y": {"field": "v", "type": "quantitative", "scale": {"domain": [-138.03, 413.03], "nice": false, "zero": false}, "axis": null},
            "color": {"field": "fam", "type": "nominal", "legend": null},
            "shape": {"field": "key", "type": "nominal", "legend": null}
          }
        },
        {
          "data": {"values": [{"label": "0°", "u": 1.92, "v": 112.14}]},
          "mark": {"type": "text", "font": "Liberation Sans", "fontSize": 22, "align": "center", "baseline": "middle", "color": "black"},
          "encoding": {
            "x": {"field": "u", "type": "quantitative", "scale": {"domain": [-132.52, 300.35], "nice": false, "zero": false}, "axis": null},
            "y": {"field": "v", "type": "quantitative", "scale": {"domain": [-138.03, 413.03], "nice": false, "zero": false}, "axis": null},
            "text": {"field": "label"}
          }
        },
        {
          "data": {"name": "botBoxes"},
          "mark": {"type": "rect", "fill": "white", "stroke": "black", "strokeWidth": 2.5},
          "encoding": {
            "x": {"field": "u", "type": "quantitative", "scale": {"domain": [-132.52, 300.35], "nice": false, "zero": false}, "axis": null},
            "x2": {"field": "u2"},
            "y": {"field": "v", "type": "quantitative", "scale": {"domain": [-138.03, 413.03], "nice": false, "zero": false}, "axis": null},
            "y2": {"field": "v2"}
          }
        },
        {
          "data": {"name": "botTexts"},
          "mark": {"type": "text", "font": "Liberation Sans", "fontSize": 17.5, "align": "left", "baseline": "middle", "color": "black"},
          "encoding": {
            "x": {"field": "u", "type": "quantitative", "scale": {"domain": [-132.52, 300.35], "nice": false, "zero": false}, "axis": null},
            "y": {"field": "v", "type": "quantitative", "scale": {"domain": [-138.03, 413.03], "nice": false, "zero": false}, "axis": null},
            "text": {"field": "label"}
          }
        },
        {
          "data": {"name": "botLeg"},
          "mark": {"type": "point", "filled": true, "opacity": 1, "strokeWidth": 0, "size": 260},
          "encoding": {
            "x": {"datum": 141.26, "type": "quantitative", "scale": {"domain": [-132.52, 300.35], "nice": false, "zero": false}, "axis": null},
            "y": {"field": "v", "type": "quantitative", "scale": {"domain": [-138.03, 413.03], "nice": false, "zero": false}, "axis": null},
            "color": {"field": "fam", "type": "nominal", "legend": null},
            "shape": {"field": "key", "type": "nominal", "legend": null}
          }
        },
        {
          "data": {"name": "botLeg"},
          "mark": {"type": "text", "font": "Liberation Sans", "fontSize": 19.5, "align": "left", "baseline": "middle", "color": "black"},
          "encoding": {
            "x": {"datum": 147.55, "type": "quantitative", "scale": {"domain": [-132.52, 300.35], "nice": false, "zero": false}, "axis": null},
            "y": {"field": "v", "type": "quantitative", "scale": {"domain": [-138.03, 413.03], "nice": false, "zero": false}, "axis": null},
            "text": {"field": "label"}
          }
        }
      ]
    }
  ]
}
